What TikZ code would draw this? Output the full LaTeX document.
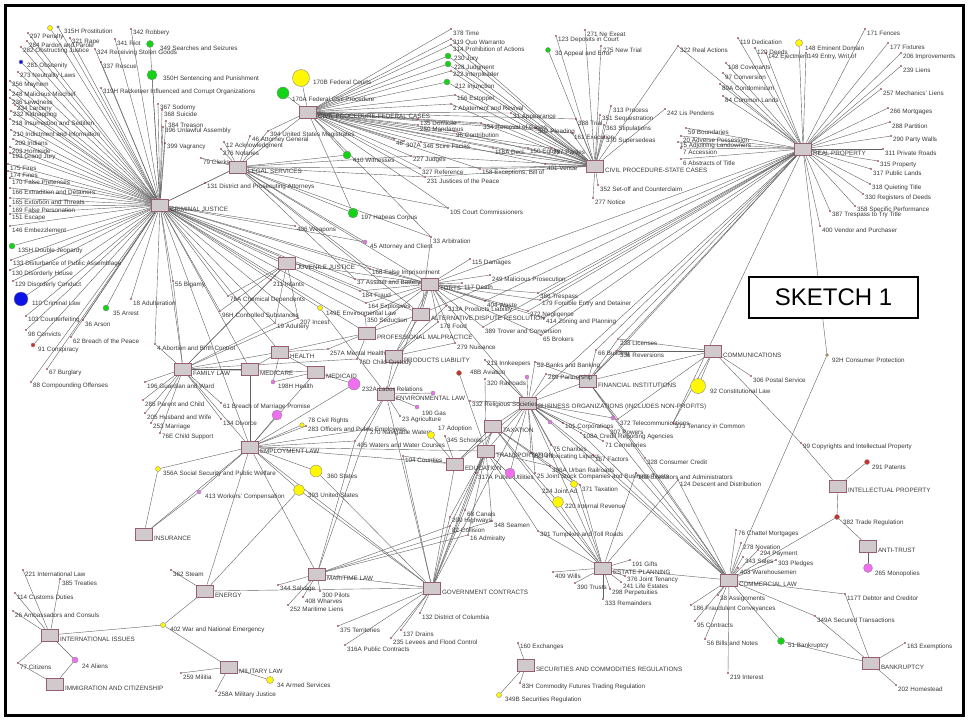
\documentclass[tikz,border=0pt]{standalone}
\usepackage{fontspec}
\setmainfont{Liberation Sans}
\usetikzlibrary{backgrounds}
\definecolor{hubfill}{RGB}{208,202,204}
\definecolor{hubline}{RGB}{150,95,110}
\definecolor{cG}{RGB}{20,210,20}
\definecolor{cY}{RGB}{255,248,0}
\definecolor{cB}{RGB}{10,20,230}
\definecolor{cP}{RGB}{240,110,240}
\definecolor{cR}{RGB}{200,50,40}
\definecolor{cO}{RGB}{230,140,40}
\tikzset{
  hub/.style={draw=hubline,fill=hubfill,line width=0.6pt,minimum width=17pt,minimum height=12pt,inner sep=0},
  kdot/.style={circle,fill=black!55!red,inner sep=0,minimum size=1.8pt},
  kball/.style={circle,draw=black!45,line width=0.4pt,inner sep=0},
  lbl/.style={anchor=west,inner sep=0,text=black!78,font=\fontsize{6.3}{7}\selectfont},
  link/.style={draw=black!62,line width=0.4pt}
}

\begin{document}
\begin{tikzpicture}[x=1pt,y=-1pt]
\useasboundingbox (0,0) rectangle (968,725);
% subject areas
\foreach \n/\x/\y/\t in {cj/160/205/{CRIMINAL JUSTICE}, ls/238/167/{LEGAL SERVICES},
  cpf/308/112/{CIVIL PROCEDURE-FEDERAL CASES}, cps/595/166/{CIVIL PROCEDURE-STATE CASES},
  rp/803/149/{REAL PROPERTY}, jj/287/263/{JUVENILE JUSTICE}, torts/430/284/{TORTS},
  adr/421/314/{ALTERNATIVE DISPUTE RESOLUTION}, pm/367/333/{PROFESSIONAL MALPRACTICE},
  health/280/352/{HEALTH}, pl/394/356/{PRODUCTS LIABILITY}, mcare/250/369/{MEDICARE},
  mcaid/316/372/{MEDICAID}, env/386/394/{ENVIRONMENTAL LAW}, fam/183/369/{FAMILY LAW},
  emp/250/447/{EMPLOYMENT LAW}, edu/455/464/{EDUCATION}, trans/486/451/{TRANSPORTATION},
  tax/493/426/{TAXATION}, bus/528/403/{BUSINESS ORGANIZATIONS (INCLUDES NON-PROFITS)},
  fin/588/381/{FINANCIAL INSTITUTIONS}, comm/713/351/{COMMUNICATIONS},
  ip/838/486/{INTELLECTUAL PROPERTY}, anti/868/546/{ANTI-TRUST}, coml/729/580/{COMMERCIAL LAW},
  bank/871/663/{BANKRUPTCY}, est/603/568/{ESTATE PLANNING},
  sec/526/665/{SECURITIES AND COMMODITIES REGULATIONS}, gov/432/588/{GOVERNMENT CONTRACTS},
  mar/317/574/{MARITIME LAW}, mil/229/667/{MILITARY LAW}, energy/205/591/{ENERGY},
  ins/144/534/{INSURANCE}, intl/50/635/{INTERNATIONAL ISSUES}, imm/55/684/{IMMIGRATION AND CITIZENSHIP}}{
  \node[hub] (\n) at (\x,\y) {};
  \node[lbl] at ([shift={(1pt,-4pt)}]\n.east) {\t};
}

% key numbers (dot + label)
\foreach \n/\x/\y/\t in {k297/30/37/{297 Penalty}, k321/72/42/{321 Rape}, k284/29/45/{284 Pardon and Parole},
  k282/23/51/{282 Obstructing Justice}, k324/97/53/{324 Receiving Stolen Goods}, k342/133/33/{342 Robbery},
  k341/117/43/{341 Riot}, k337/103/66/{337 Rescue}, k273/20/76/{273 Neutrality Laws}, k256/12/85/{256 Mayhem},
  k319H/103/92/{319H Racketeer Influenced and Corrupt Organizations}, k248/12/94/{248 Malicious Mischief},
  k236/12/102/{236 Lewdness}, k234/17/109/{234 Larceny}, k232/13/115/{232 Kidnapping},
  k218/12/123/{218 Insurrection and Sedition}, k210/13/134/{210 Indictment and Information},
  k209/15/143/{209 Indians}, k203/12/151/{203 Homicide}, k192/12/157/{193 Grand Jury}, k175/10/168/{175 Fires},
  k174/10/175/{174 Fines}, k170/12/182/{170 False Pretenses}, k166/12/192/{166 Extradition and Detainers},
  k165/12/202/{165 Extortion and Threats}, k169/12/210/{169 False Personation}, k151/12/218/{151 Escape},
  k146/12/230/{146 Embezzlement}, k367/160/108/{367 Sodomy}, k368/164/114/{368 Suicide},
  k384/168/125/{384 Treason}, k396/165/131/{396 Unlawful Assembly}, k399/167/147/{399 Vagrancy},
  k133/13/264/{133 Disturbance of Public Assemblage}, k130/12/274/{130 Disorderly House},
  k129/15/285/{129 Disorderly Conduct}, k103/28/320/{103 Counterfeiting}, k98/28/334/{98 Convicts},
  k36/85/324/{36 Arson}, k62/73/341/{62 Breach of the Peace}, k67/49/373/{67 Burglary},
  k88/33/386/{88 Compounding Offenses}, k18/133/303/{18 Adulteration}, k55/175/285/{55 Bigamy},
  k406/297/230/{406 Weapons}, k131/207/187/{131 District and Prosecuting Attorneys},
  k46/252/140/{46 Attorney General}, k12/226/146/{12 Acknowledgment}, k276/223/153/{276 Notaries},
  k79/203/162/{79 Clerks}, k394/270/135/{394 United States Magistrates}, k227/413/160/{227 Judges},
  k327/422/172/{327 Reference}, k231/427/181/{231 Justices of the Peace}, k105/450/212/{105 Court Commissioners},
  k33/433/241/{33 Arbitration},
  k378/453/33/{378 Time}, k319/453/43/{319 Quo Warranto}, k314/453/49/{314 Prohibition of Actions},
  k222/453/75/{222 Interpleader}, k156/457/99/{156 Estoppel}, k2/453/108/{2 Abatement and Revival},
  k31/513/117/{31 Appearance}, k135/420/123/{135 Domicile}, k250/420/129/{250 Mandamus},
  k388/578/123/{388 Trial}, k334/483/127/{334 Removal of Cases}, k96/456/135/{96 Contribution},
  k48A/396/143/{48}, k307A/406/145/{307A}, k346/423/146/{346 Scire Facias}, k302/538/132/{302 Pleading},
  k161/574/137/{161 Execution}, k118A/495/152/{118A Decl.}, k150/530/152/{150 Equity},
  k287/553/152/{287 Parties}, k158/482/173/{158 Exceptions, Bill of},
  k123/558/40/{123 Deposits in Court}, k271/587/34/{271 Ne Exeat}, k275/603/50/{275 New Trial},
  k313/613/110/{313 Process}, k351/602/119/{351 Sequestration}, k363/606/129/{363 Stipulations},
  k370/606/141/{370 Supersedeas}, k401/547/168/{401 Venue}, k352/600/189/{352 Set-off and Counterclaim},
  k277/595/202/{277 Notice}, k242/667/113/{242 Lis Pendens}, k322/680/50/{322 Real Actions},
  k119/740/42/{119 Dedication}, k120/757/52/{120 Deeds}, k142/768/57/{142 Ejectment},
  k149/808/57/{149 Entry, Writ of}, k108/728/67/{108 Covenants}, k97/725/77/{97 Conversion},
  k89A/722/88/{89A Condominium}, k84/725/100/{84 Common Lands}, k171/867/33/{171 Fences},
  k177/890/47/{177 Fixtures}, k206/903/57/{206 Improvements}, k239/903/70/{239 Liens},
  k257/883/93/{257 Mechanics' Liens}, k266/890/112/{266 Mortgages}, k288/892/126/{288 Partition},
  k290/893/140/{290 Party Walls}, k311/885/153/{311 Private Roads}, k315/880/165/{315 Property},
  k317/873/173/{317 Public Lands}, k318/872/188/{318 Quieting Title}, k330/865/198/{330 Registers of Deeds},
  k358/857/210/{358 Specific Performance}, k387/832/215/{387 Trespass to Try Title},
  k400/822/230/{400 Vendor and Purchaser}, k59/688/132/{59 Boundaries}, k20/683/140/{20 Adverse Possession},
  k15/680/146/{15 Adjoining Landowners}, k7/683/152/{7 Accession}, k6/683/163/{6 Abstracts of Title},
  k115/472/263/{115 Damages}, k117/464/287/{117 Death}, k168/372/273/{168 False Imprisonment},
  k37/357/283/{37 Assault and Battery}, k184/362/295/{184 Fraud}, k164/368/307/{164 Explosives},
  k249/492/279/{249 Malicious Prosecution}, k386/540/297/{386 Trespass},
  k179/542/304/{179 Forcible Entry and Detainer}, k404/487/305/{404 Waste},
  k313A/448/310/{313A Products Liability}, k272/530/315/{272 Negligence},
  k414/546/322/{414 Zoning and Planning}, k389/485/331/{389 Trover and Conversion},
  k65/543/339/{65 Brokers}, k178/440/326/{178 Food}, k279/457/347/{279 Nuisance}, k350/367/320/{350 Seduction},
  k257A/330/353/{257A Mental Health}, k23/402/420/{23 Agriculture},
  k211/273/284/{211 Infants}, k76A/230/300/{76A Chemical Dependents}, k96H/222/315/{96H Controlled Substances},
  k207/300/322/{207 Incest}, k19/277/327/{19 Adultery},
  k4/157/348/{4 Abortion and Birth Control}, k196/147/386/{196 Guardian and Ward},
  k285/145/404/{285 Parent and Child}, k205/147/417/{205 Husband and Wife}, k253/153/427/{253 Marriage},
  k76E/162/437/{76E Child Support}, k61/223/407/{61 Breach of Marriage Promise}, k134/223/423/{134 Divorce},
  k76D/359/363/{76D Child Custody},
  k283/308/430/{283 Officers and Public Employees}, k270/370/433/{270 Navigable Waters},
  k405/357/445/{405 Waters and Water Courses}, k345/447/440/{345 Schools}, k104/405/460/{104 Counties},
  k320/487/383/{320 Railroads}, k396A/552/470/{396A Urban Railroads}, k317A/478/477/{317A Public Utilities},
  k391/540/535/{391 Turnpikes and Toll Roads}, k200/452/521/{200 Highways}, k68/467/514/{68 Canals},
  k82/452/530/{82 Collision}, k371/582/489/{371 Taxation},
  k213/487/364/{213 Innkeepers}, k52/537/366/{52 Banks and Banking}, k289/548/378/{289 Partnership},
  k332/472/405/{332 Religious Societies}, k101/565/427/{101 Corporations}, k307/610/432/{307 Powers},
  k108A/583/437/{108A Credit Reporting Agencies}, k71/605/445/{71 Cemeteries}, k75/553/449/{75 Charities},
  k223/533/457/{223 Intoxicating Liquors}, k167/595/459/{167 Factors},
  k25/537/477/{25 Joint Stock Companies and Business Trusts},
  k66/598/354/{66 Building}, k336/620/355/{336 Reversions}, k238/620/343/{238 Licenses},
  k328/647/462/{328 Consumer Credit}, k306/753/380/{306 Postal Service}, k372/620/423/{372 Telecommunications},
  k373/675/427/{373 Tenancy in Common}, k99/803/447/{99 Copyrights and Intellectual Property},
  k76/738/534/{76 Chattel Mortgages}, k278/743/547/{278 Novation}, k294/760/554/{294 Payment},
  k343/745/561/{343 Sales}, k303/778/564/{303 Pledges}, k403/740/572/{403 Warehousemen},
  k38/720/599/{38 Assignments}, k186/693/609/{186 Fraudulent Conveyances}, k95/697/625/{95 Contracts},
  k56/707/643/{56 Bills and Notes}, k219/730/677/{219 Interest}, k117T/847/598/{117T Debtor and Creditor},
  k349A/817/620/{349A Secured Transactions}, k163/907/647/{163 Exemptions}, k202/898/689/{202 Homestead},
  k191/632/564/{191 Gifts}, k409/555/576/{409 Wills}, k390/577/587/{390 Trusts},
  k376/627/580/{376 Joint Tenancy}, k241/623/586/{241 Life Estates}, k298/612/593/{298 Perpetuities},
  k333/605/603/{333 Remainders}, k162/638/477/{162 Executors and Administrators},
  k124/680/484/{124 Descent and Distribution},
  k160/520/647/{160 Exchanges}, k83H/522/687/{83H Commodity Futures Trading Regulation},
  k132/422/617/{132 District of Columbia}, k375/340/630/{375 Territories}, k137/403/634/{137 Drains},
  k235/393/642/{235 Levees and Flood Control}, k316A/347/649/{316A Public Contracts},
  k344/280/589/{344 Salvage}, k300/322/595/{300 Pilots}, k408/305/601/{408 Wharves},
  k252/290/609/{252 Maritime Liens}, k348/494/525/{348 Seamen}, k16/470/539/{16 Admiralty},
  k259/183/677/{259 Militia}, k258A/218/695/{258A Military Justice}, k362/173/574/{362 Steam},
  k221/25/574/{221 International Law}, k385/62/583/{385 Treaties}, k114/17/597/{114 Customs Duties},
  k26/15/615/{26 Ambassadors and Consuls}, k77/20/667/{77 Citizens}}{
  \node[lbl] at (\x,\y) {\t};
  \node[kdot] (\n) at (\x-2,\y-4) {};
}

% key numbers drawn as circles
\foreach \n/\cx/\cy/\d/\c/\lx/\ly/\t in {k315H/50/28/5/cY/64/31/{315H Prostitution}, kb1/58/27/2.5/cB/58/27/{},
  k281/21/62/4/cB/27/66/{281 Obscenity}, k349/150/44/7/cG/160/48/{349 Searches and Seizures},
  k350H/152/75/10/cG/163/79/{350H Sentencing and Punishment}, k135H/12/246/6/cG/18/251/{135H Double Jeopardy},
  k110/21/299/14/cB/32/303/{110 Criminal Law}, k91/33/345/4/cR/38/350/{91 Conspiracy},
  k35/106/308/6/cG/113/313/{35 Arrest}, k410/347/155/8/cG/353/160/{410 Witnesses},
  k197/353/213/10/cG/361/218/{197 Habeas Corpus}, k45/365/242/4/cP/370/247/{45 Attorney and Client},
  k170B/301/78/17/cY/313/82/{170B Federal Courts}, k170A/283/93/12/cG/292/99/{170A Federal Civil Procedure},
  k230/448/56/6/cG/454/59/{230 Jury}, k228/448/64/6/cG/454/68/{228 Judgment},
  k212/447/82/6/cG/455/87/{212 Injunction}, k30/548/50/5/cG/555/54/{30 Appeal and Error},
  k148/799/43/7/cY/805/48/{148 Eminent Domain}, k92H/827/355/3/cO/832/360/{92H Consumer Protection},
  k198H/273/382/4/cP/278/386/{198H Health}, k232A/354/384/12/cP/362/389/{232A Labor Relations},
  k149E/320/308/5/cY/326/313/{149E Environmental Law}, k190/417/407/4/cP/422/413/{190 Gas},
  kpk2/433/393/4/cP/433/393/{}, kpk3/277/415/10/cP/277/415/{},
  k78/302/425/4.5/cY/308/421/{78 Civil Rights}, k360/316/471/12/cY/327/476/{360 States},
  k393/299/490/11/cY/308/495/{393 United States}, k356A/158/469/5/cY/163/474/{356A Social Security and Public Welfare},
  k413/199/492/4/cP/205/497/{413 Workers' Compensation}, k17/431/435/7/cY/438/429/{17 Adoption},
  k48B/459/373/5/cR/470/372/{48B Aviation}, k220/558/502/11/cY/565/506/{220 Internal Revenue},
  k224/574/484/7/cY/542/491/{224 Joint Ad.}, kpk4/510/473/10/cP/510/473/{},
  kpk5/527/377/4/cP/527/377/{}, kpk6/550/422/4/cP/550/422/{}, kpk7/613/418/4/cP/613/418/{},
  k92/698/386/15/cY/710/391/{92 Constitutional Law}, k291/867/462/5/cR/872/467/{291 Patents},
  k382/837/517/5/cR/843/523/{382 Trade Regulation}, k265/868/568/9/cP/875/574/{265 Monopolies},
  k51/781/641/7/cG/788/646/{51 Bankruptcy}, k349B/499/695/5/cY/505/700/{349B Securities Regulation},
  k34/270/680/7/cY/277/685/{34 Armed Services}, k402/163/625/5/cY/170/630/{402 War and National Emergency},
  k24/75/660/6/cP/82/666/{24 Aliens}}{
  \node[kball,fill=\c,minimum size=\d] (\n) at (\cx,\cy) {};
  \node[lbl] at (\lx,\ly) {\t};
}

\node[draw,line width=1.8pt,fill=white,minimum width=169pt,minimum height=41pt,inner sep=0,
  font=\fontsize{24}{28}\selectfont] (sketch) at (833.5,297.5) {SKETCH 1};
\draw[line width=3pt] (5.5,5.5) rectangle (963.5,715.5);

\begin{scope}[on background layer]
\foreach \l in {k297,k321,k284,k282,k324,k342,k341,k337,k273,k256,k319H,k248,k236,k234,k232,k218,k210,k209,
  k203,k192,k175,k174,k170,k166,k165,k169,k151,k146,k367,k368,k384,k396,k399,k133,k130,k129,k103,k98,k36,k62,
  k67,k88,k18,k55,k406,k131,k315H,kb1,k281,k349,k350H,k135H,k110,k91,k35,ls,jj,torts,adr,pm,fam,health,mcare,
  emp,k76A,k96H,k211,k19,k207,k350,k4,k184,k168,k37,k164,k45,k149E}
  \draw[link] (cj) -- (\l);
\foreach \l in {k46,k12,k276,k79,k394,k131,k227,k327,k231,k105,k33,k410,k197,k45,cpf,torts,adr,k168,k37}
  \draw[link] (ls) -- (\l);
\foreach \l in {k170B,k170A,k378,k319,k314,k230,k228,k222,k212,k156,k2,k31,k135,k250,k388,k334,k96,k48A,k307A,
  k346,k302,k161,k118A,k150,k287,k158,k394,k197,k33,k227,k327,k231,k105,k410,k401,cps}
  \draw[link] (cpf) -- (\l);
\foreach \l in {k30,k123,k271,k275,k313,k351,k363,k370,k401,k352,k277,k242,k322,k2,k31,k388,k334,k96,k302,k161,
  k118A,k150,k287,k158,k156,k212,k222,k228,k230,k314,k319,k227,k327,k231,k346}
  \draw[link] (cps) -- (\l);
\foreach \l in {k148,k119,k120,k142,k149,k108,k97,k89A,k84,k171,k177,k206,k239,k257,k266,k288,k290,k311,k315,
  k317,k318,k330,k358,k387,k400,k59,k20,k15,k7,k6,k92H,k322,k386,k404,k179,k414,k66,k238,k336,k373,k272,k389,
  k65,torts,adr,fin,bus}
  \draw[link] (rp) -- (\l);
\foreach \l in {k211,k76A,k96H,k207,k19,fam,torts}
  \draw[link] (jj) -- (\l);
\foreach \l in {k115,k117,k168,k37,k184,k164,k249,k386,k179,k404,k313A,k272,k414,k389,k65,k178,k279,k350,
  adr,pm,pl,env,bus}
  \draw[link] (torts) -- (\l);
\foreach \l in {k33,pm,pl}
  \draw[link] (adr) -- (\l);
\foreach \l in {k350,k76D,k257A,health}
  \draw[link] (pm) -- (\l);
\foreach \l in {k178,k279,k313A,env}
  \draw[link] (pl) -- (\l);
\foreach \l in {k257A,k198H,mcare,mcaid,fam}
  \draw[link] (health) -- (\l);
\foreach \l in {k232A,k198H,fam,emp}
  \draw[link] (mcaid) -- (\l);
\foreach \l in {fam,emp}
  \draw[link] (mcare) -- (\l);
\foreach \l in {k149E,k190,k23,kpk2,k270,k405,gov}
  \draw[link] (env) -- (\l);
\foreach \l in {k4,k196,k285,k205,k253,k76E,k61,k134,k76D,k55,k211,k19,k207,emp}
  \draw[link] (fam) -- (\l);
\foreach \l in {kpk3,k78,k283,k360,k393,k356A,k413,k270,k405,k232A,edu,gov,ins,energy,mar,trans}
  \draw[link] (emp) -- (\l);
\foreach \l in {k356A,k413}
  \draw[link] (ins) -- (\l);
\foreach \l in {k17,k345,k104,gov,tax}
  \draw[link] (edu) -- (\l);
\foreach \l in {k48B,k320,k396A,k317A,k391,k200,k68,k82,k348,k16,gov,tax,est}
  \draw[link] (trans) -- (\l);
\foreach \l in {k371,k220,k224,gov,bus,est}
  \draw[link] (tax) -- (\l);
\foreach \l in {k213,k52,k289,k332,k101,k307,k108A,k71,k75,k223,k167,k25,k224,kpk4,kpk5,kpk6,kpk7,
  edu,trans,fin,est,gov}
  \draw[link] (bus) -- (\l);
\foreach \l in {k52,k66,k336,k238,k328,k372,k289,comm}
  \draw[link] (fin) -- (\l);
\foreach \l in {k238,k372,k306,k92,k99,k373,k336}
  \draw[link] (comm) -- (\l);
\foreach \l in {k99,k291,k382}
  \draw[link] (ip) -- (\l);
\foreach \l in {k382,k265}
  \draw[link] (anti) -- (\l);
\foreach \l in {k76,k278,k294,k343,k303,k403,k38,k186,k95,k56,k219,k51,k117T,k349A,k382,k92H,k328,k167,
  k108A,k307,k162,k124,fin,bus,est}
  \draw[link] (coml) -- (\l);
\foreach \l in {k163,k202,k51,k349A,k117T}
  \draw[link] (bank) -- (\l);
\foreach \l in {k191,k409,k390,k376,k241,k298,k333,k162,k124,k220,k224,k371,k391}
  \draw[link] (est) -- (\l);
\foreach \l in {k160,k83H,k349B}
  \draw[link] (sec) -- (\l);
\foreach \l in {k132,k375,k137,k235,k316A,k200,k82,k68,k104,k360,k393,energy,mar}
  \draw[link] (gov) -- (\l);
\foreach \l in {k344,k300,k408,k252,k348,k16,k82,k270,k405}
  \draw[link] (mar) -- (\l);
\foreach \l in {k362,k402,k393}
  \draw[link] (energy) -- (\l);
\foreach \l in {k402,k259,k258A,k34}
  \draw[link] (mil) -- (\l);
\foreach \l in {k221,k385,k114,k26,k77,k24,k402}
  \draw[link] (intl) -- (\l);
\foreach \l in {k24,k77}
  \draw[link] (imm) -- (\l);
\end{scope}
\end{tikzpicture}
\end{document}
